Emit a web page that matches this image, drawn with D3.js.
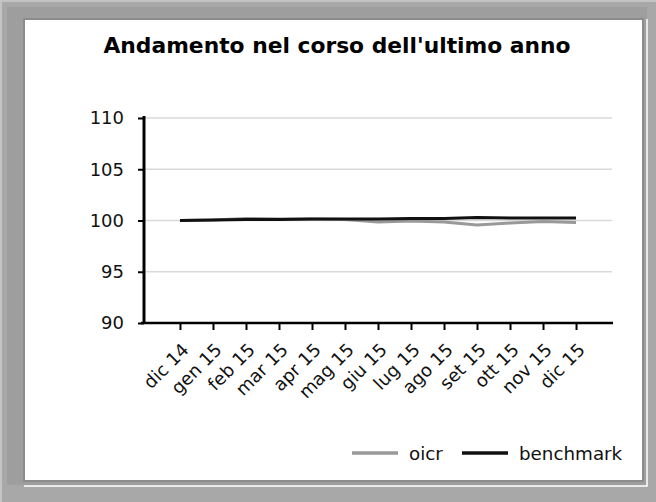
<!DOCTYPE html>
<html>
<head>
<meta charset="utf-8">
<script src="https://cdn.jsdelivr.net/npm/d3@7"></script>
<style>
  body { margin: 0; background: #a8a8a8; }
  svg { display: block; font-family: "DejaVu Sans", sans-serif; }
</style>
</head>
<body>
<svg id="chart" width="656" height="502"></svg>
<script>
// months on the x axis
const months = ["dic 14", "gen 15", "feb 15", "mar 15", "apr 15", "mag 15", "giu 15",
                "lug 15", "ago 15", "set 15", "ott 15", "nov 15", "dic 15"];
// values
const oicr = [100, 100.05, 100.2, 100.15, 100.15, 100.1, 99.85, 99.95, 99.85, 99.55, 99.75, 99.9, 99.8];
const benchmark = [100, 100.05, 100.1, 100.1, 100.15, 100.15, 100.15, 100.2, 100.2, 100.3, 100.25, 100.25, 100.25];
const yTicks = [90, 95, 100, 105, 110];

let svg = d3.select("#chart");

// frame
svg.append("rect").attr("width", 656).attr("height", 502).attr("fill", "#a8a8a8");
svg.append("rect").attr("x", 0).attr("y", 0).attr("width", 2).attr("height", 502).attr("fill", "#c4c4c4");
svg.append("rect").attr("x", 0).attr("y", 0).attr("width", 656).attr("height", 2).attr("fill", "#c4c4c4");
svg.append("rect").attr("x", 7).attr("y", 7).attr("width", 640).attr("height", 478).attr("fill", "#9e9e9e");
svg.append("rect")
  .attr("x", 24).attr("y", 19).attr("width", 619).attr("height", 462)
  .attr("fill", "white").attr("stroke", "#8c8c8c").attr("stroke-width", 2);
svg.append("path").attr("d", "M647,19V486H24").attr("fill", "none").attr("stroke", "white").attr("stroke-width", 1.5);

let canvas = {
  "left": 144,
  "right": 612,
  "top": 118,
  "bottom": 323
};

// title
svg.append("text")
  .attr("x", 337).attr("y", 53)
  .attr("text-anchor", "middle")
  .attr("font-size", "21.8px")
  .attr("font-weight", "bold")
  .text("Andamento nel corso dell'ultimo anno");

let xScale = d3.scalePoint()
  .domain(months)
  .range([canvas.left, canvas.right])
  .padding(1.09);

let yScale = d3.scaleLinear()
  .domain([90, 110])
  .range([canvas.bottom, canvas.top]);

// gridlines
svg.append("g")
  .selectAll("line")
  .data(yTicks.slice(1))
  .join("line")
  .attr("x1", canvas.left).attr("x2", canvas.right)
  .attr("y1", d => yScale(d)).attr("y2", d => yScale(d))
  .attr("stroke", "#d9d9d9").attr("stroke-width", 1.5);

// y axis
let gy = svg.append("g").attr("transform", `translate(${canvas.left}, 0)`);
gy.call(d3.axisLeft(yScale).tickValues(yTicks).tickSize(6).tickPadding(14))
  .call(g => g.select(".domain").remove())
  .attr("font-family", "DejaVu Sans");
gy.selectAll(".tick line").attr("stroke", "black").attr("stroke-width", 2);
gy.selectAll(".tick text")
  .attr("font-size", "18px")
  .attr("fill", "#111");
gy.append("line")
  .attr("x1", 0).attr("x2", 0)
  .attr("y1", canvas.top - 2).attr("y2", canvas.bottom + 1)
  .attr("stroke", "black").attr("stroke-width", 3);

// x axis
let gx = svg.append("g").attr("transform", `translate(0, ${canvas.bottom})`);
gx.call(d3.axisBottom(xScale).tickSize(7).tickFormat(""))
  .call(g => g.select(".domain").remove())
  .attr("font-family", "DejaVu Sans");
gx.selectAll(".tick line").attr("stroke", "black").attr("stroke-width", 2);
gx.append("line")
  .attr("x1", canvas.left - 3).attr("x2", canvas.right + 1)
  .attr("y1", 0).attr("y2", 0)
  .attr("stroke", "black").attr("stroke-width", 2.5);

gx.selectAll(".xlabel")
  .data(months)
  .join("text")
  .attr("class", "xlabel")
  .attr("text-anchor", "end")
  .attr("font-size", "18px")
  .attr("fill", "#111")
  .attr("transform", d => `translate(${xScale(d) + 10}, 28) rotate(-45)`)
  .text(d => d);

// series
let line = d3.line()
  .x((d, i) => xScale(months[i]))
  .y(d => yScale(d));

svg.append("path")
  .datum(oicr)
  .attr("d", line)
  .attr("fill", "none")
  .attr("stroke", "#999999")
  .attr("stroke-width", 3);

svg.append("path")
  .datum(benchmark)
  .attr("d", line)
  .attr("fill", "none")
  .attr("stroke", "#111111")
  .attr("stroke-width", 3);

// legend
let legend = [
  {"name": "oicr", "color": "#999999", "x": 352},
  {"name": "benchmark", "color": "#111111", "x": 462}
];

let lg = svg.append("g")
  .selectAll("g")
  .data(legend)
  .join("g")
  .attr("transform", d => `translate(${d.x}, 453)`);

lg.append("line")
  .attr("x1", 0).attr("x2", 46)
  .attr("stroke", d => d.color)
  .attr("stroke-width", 3.5);

lg.append("text")
  .attr("x", 57).attr("y", 6.5)
  .attr("font-size", "18.3px")
  .attr("fill", "#111")
  .text(d => d.name);
</script>
</body>
</html>
